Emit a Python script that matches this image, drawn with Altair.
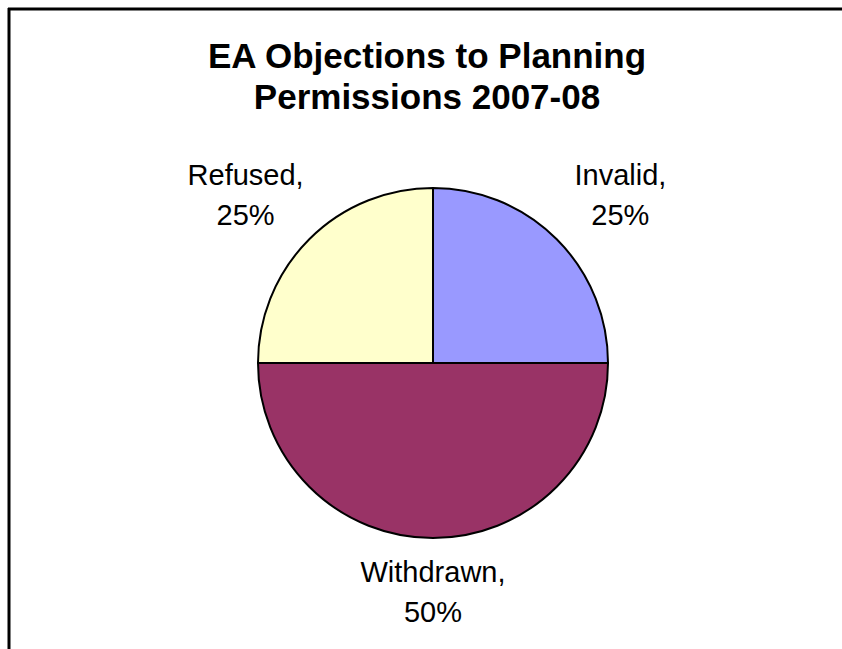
import altair as alt
import pandas as pd

categories = ["Invalid", "Withdrawn", "Refused"]
values = [25, 50, 25]
colors = ["#9999FF", "#993366", "#FFFFCC"]
title_lines = ["EA Objections to Planning", "Permissions 2007-08"]

df = pd.DataFrame({"category": categories, "value": values})
df["label"] = df["category"] + ",\n" + df["value"].astype(str) + "%"
df["order"] = list(range(len(df)))

FONT = "Liberation Sans, Arial"
W, H = 842, 649
TOP = 130
cx, cy = 433, 363 - TOP
R = 175

pie = alt.Chart(df).mark_arc(outerRadius=R, stroke="black", strokeWidth=2).encode(
    theta=alt.Theta("value:Q", stack=True),
    order=alt.Order("order:Q"),
    color=alt.Color("category:N", scale=alt.Scale(domain=categories, range=colors), legend=None),
    x=alt.value(cx),
    y=alt.value(cy),
)

text_base = alt.Chart(df).transform_window(
    cum="sum(value)", sort=[alt.SortField("order")]
).transform_calculate(
    mid="datum.cum - datum.value / 2"
).encode(
    theta=alt.Theta("mid:Q", scale=alt.Scale(domain=[0, 100]), stack=None),
    text="label:N",
    x=alt.value(cx),
    y=alt.value(cy),
)

labels_side = text_base.mark_text(
    radius=265, fontSize=29, font=FONT, lineBreak="\n", lineHeight=40,
    align="center", baseline="middle", color="black"
).transform_filter(alt.datum.category != "Withdrawn")

labels_bottom = text_base.mark_text(
    radius=210, fontSize=29, font=FONT, lineBreak="\n", lineHeight=40,
    align="center", baseline="middle", color="black"
).transform_filter(alt.datum.category == "Withdrawn")

frame_df = pd.DataFrame({"k": [0]})
top_rule = alt.Chart(frame_df).mark_rule(color="black", strokeWidth=3).encode(
    x=alt.value(8), x2=alt.value(W), y=alt.value(9 - TOP)
)
left_rule = alt.Chart(frame_df).mark_rule(color="black", strokeWidth=3).encode(
    x=alt.value(9), y=alt.value(8 - TOP), y2=alt.value(H - TOP)
)

chart = alt.layer(pie, labels_side, labels_bottom, top_rule, left_rule).properties(
    width=W,
    height=H - TOP,
    autosize="none",
    padding={"left": 0, "top": TOP, "right": 0, "bottom": 0},
    background="white",
    title=alt.TitleParams(
        text=title_lines, fontSize=35, font=FONT, fontWeight="bold",
        lineHeight=41, anchor="middle", frame="group", dx=6, offset=-109,
        color="black"
    ),
).configure_view(stroke=None)

chart.save("out.html", embed_options={"renderer": "svg", "actions": False})
